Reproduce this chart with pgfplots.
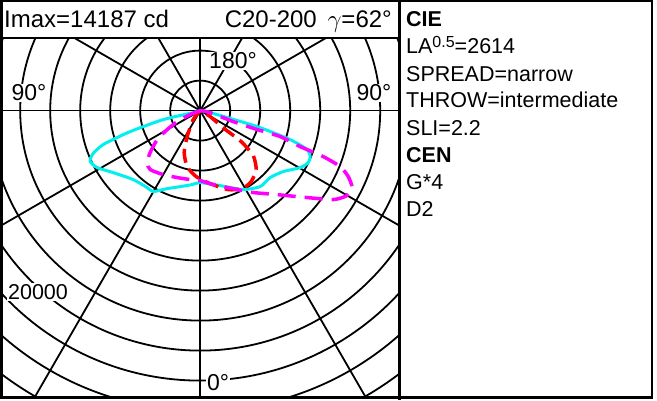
\documentclass[border=0pt]{standalone}
\usepackage{pgfplots}
\pgfplotsset{compat=1.18}
\usepackage{fontspec}
\setmainfont{Liberation Sans}
\definecolor{cC0}{RGB}{0,240,240}
\definecolor{cC20}{RGB}{255,0,255}
\definecolor{cC90}{RGB}{255,0,0}

\begin{document}
\fontsize{21.5}{24}\selectfont
\begin{tikzpicture}[x=1pt,y=1pt]
\useasboundingbox (0,0) rectangle (657,400);
\begin{axis}[
  at={(1,2)}, anchor=south west,
  scale only axis, width=398pt, height=360pt,
  xmin=-16583, xmax=16583, ymin=-23917, ymax=6083,
  axis lines=none, ticks=none, clip=true,
]
% polar grid: circles every 2500 cd, spokes every 30 deg
\pgfplotsinvokeforeach{1,...,12}{
  \draw[line width=1.8pt] (axis cs:0,0) circle [radius={30pt*#1}];
}
\pgfplotsinvokeforeach{0,30,...,330}{
  \draw[line width=1.8pt] (axis cs:0,0) -- ++(#1:500pt);
}
% C0-180
\addplot[cC0, line width=3pt, smooth, tension=0.4, data cs=polar]
  coordinates {
  (196,0)(196,608)(193.7,3175)(196.7,6092)(199.3,8567)(202.2,9717)
  (204.9,10100)(209,9808)(215.5,8900)(225.8,8017)(235.5,7792)(239.9,7800)
  (247.1,7058)(255.3,6550)(263.8,6200)(270,6000)(284.9,6467)(298.6,7492)
  (308.3,8067)(316.3,8075)(323.7,8583)(330.3,9592)(334.3,9992)(337.3,9933)
  (340,9492)(342.1,7883)(344.3,4933)(348.7,850)(348.7,0)
  };
% C90-270
\addplot[cC90, line width=3.5pt, dash pattern=on 14pt off 7pt, smooth, tension=0.4, data cs=polar]
  coordinates {
  (232,0)(232.1,950)(243.4,2425)(249.1,3742)(256.9,4792)(266.5,5508)
  (277.8,6142)(289.5,6983)(298.3,7383)(305.7,7283)(313.5,6775)(319.7,5792)
  (322.9,4283)(323.1,2500)(329,975)(329,0)
  };
% C20-200
\addplot[cC20, line width=3.5pt, dash pattern=on 18pt off 9pt, smooth, tension=0.4, data cs=polar]
  coordinates {
  (201.8,0)(201.8,900)(205.6,2125)(209.9,3175)(214,4325)(220,5442)
  (224.5,6192)(229.7,6442)(240,6158)(251.1,5900)(261.8,5808)(270,5833)
  (280,6258)(295.1,7267)(302.9,8133)(312.5,9500)(320.9,11492)(326.2,13333)
  (329.7,14100)(332,14187)(333.4,14158)(336,13500)(338.2,12567)(339.5,10942)
  (340.2,8858)(342,7008)(341.6,5008)(341.6,2900)(348.7,850)(348.7,0)
  };
\end{axis}
% scale and angle labels
\begin{scope}[every node/.style={fill=white, inner sep=1pt}]
\node[font=\fontsize{23}{24}\selectfont] at (233,339) {180°};
\node[font=\fontsize{23}{24}\selectfont] at (29,307) {90°};
\node[font=\fontsize{23}{24}\selectfont] at (374,307) {90°};
\node[font=\fontsize{23}{24}\selectfont] at (218,17) {0°};
\node at (38,108) {20000};
\end{scope}
% header
\begin{scope}[every node/.style={inner sep=0pt, font=\fontsize{24}{26}\selectfont}]
\node[anchor=base west] at (4,372) {Imax=14187 cd};
\node[anchor=base east] at (392,372) {C20-200\, $\gamma$=62°};
\end{scope}
% side panel
\begin{scope}[every node/.style={anchor=base west, inner sep=0pt}]
\node at (406,373) {\bfseries CIE};
\node at (406,346) {LA\raisebox{0.55ex}{\fontsize{16}{16}\selectfont 0.5}=2614};
\node at (406,319) {SPREAD=narrow};
\node at (406,292) {THROW=intermediate};
\node at (406,265) {SLI=2.2};
\node at (406,238) {\bfseries CEN};
\node at (406,211) {G*4};
\node at (406,184) {D2};
\end{scope}
% frames
\draw[line width=2.5pt] (1.25,2.5) rectangle (652,398.75);
\draw[line width=2.5pt] (0,362) -- (399.5,362);
\draw[line width=2.5pt] (399.5,0) -- (399.5,400);
\end{tikzpicture}
\end{document}
